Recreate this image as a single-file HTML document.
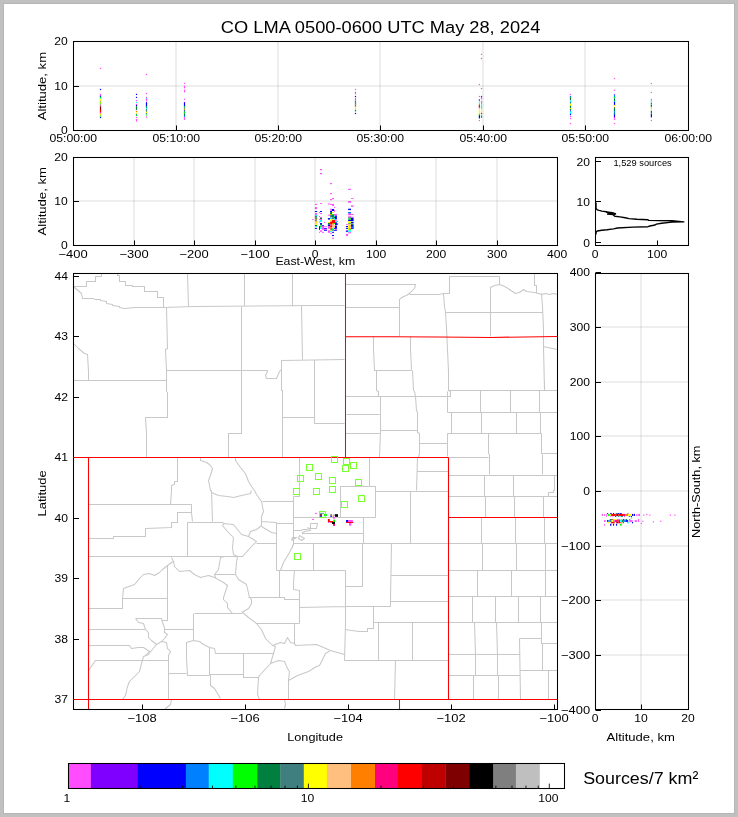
<!DOCTYPE html><html><head><meta charset="utf-8"><style>html,body{margin:0;padding:0;background:#c0c0c0}svg{display:block;will-change:transform}</style></head><body>
<svg width="738" height="817" viewBox="0 0 738 817" style="font-family:'Liberation Sans',sans-serif">
<rect x="0" y="0" width="738" height="817" fill="#c0c0c0"/>
<rect x="3" y="3" width="732" height="811" fill="#b6b6b6"/>
<rect x="4" y="4" width="730" height="809" fill="#ffffff"/>
<text x="380.60" y="32.80" font-size="17.4" text-anchor="middle" textLength="319.51" lengthAdjust="spacingAndGlyphs" >CO LMA 0500-0600 UTC May 28, 2024</text>
<line x1="176.00" y1="42.00" x2="176.00" y2="130.00" stroke="#b0b0b0" stroke-width="2.0" stroke-opacity="0.22"/>
<line x1="278.00" y1="42.00" x2="278.00" y2="130.00" stroke="#b0b0b0" stroke-width="2.0" stroke-opacity="0.22"/>
<line x1="380.00" y1="42.00" x2="380.00" y2="130.00" stroke="#b0b0b0" stroke-width="2.0" stroke-opacity="0.22"/>
<line x1="483.00" y1="42.00" x2="483.00" y2="130.00" stroke="#b0b0b0" stroke-width="2.0" stroke-opacity="0.22"/>
<line x1="585.00" y1="42.00" x2="585.00" y2="130.00" stroke="#b0b0b0" stroke-width="2.0" stroke-opacity="0.22"/>
<line x1="74.00" y1="86.00" x2="688.00" y2="86.00" stroke="#b0b0b0" stroke-width="2.0" stroke-opacity="0.22"/>
<g><rect x="99.90" y="67.90" width="1.20" height="1.20" fill="#ff4cff"/><rect x="99.90" y="88.90" width="1.20" height="1.20" fill="#0000ff"/><rect x="99.90" y="93.80" width="1.20" height="2.70" fill="#ff4cff"/><rect x="99.90" y="95.80" width="1.20" height="1.20" fill="#0000ff"/><rect x="99.90" y="96.80" width="1.20" height="1.20" fill="#00ff00"/><rect x="99.90" y="97.80" width="1.20" height="1.20" fill="#00ffff"/><rect x="99.90" y="98.70" width="1.20" height="2.70" fill="#ffff00"/><rect x="99.90" y="100.90" width="1.20" height="1.20" fill="#3f7f7f"/><rect x="99.90" y="101.60" width="1.20" height="1.20" fill="#ffff00"/><rect x="99.90" y="102.70" width="1.20" height="1.20" fill="#00ff00"/><rect x="99.90" y="103.70" width="1.20" height="1.20" fill="#ffff00"/><rect x="99.90" y="104.40" width="1.20" height="1.20" fill="#3f7f7f"/><rect x="99.90" y="105.40" width="1.20" height="1.20" fill="#ff4cff"/><rect x="99.90" y="106.40" width="1.20" height="4.00" fill="#7f0000"/><rect x="99.90" y="109.40" width="1.20" height="3.50" fill="#ff0000"/><rect x="99.90" y="112.40" width="1.20" height="1.20" fill="#ff4cff"/><rect x="99.90" y="113.40" width="1.20" height="1.20" fill="#ff7f00"/><rect x="99.90" y="114.40" width="1.20" height="1.20" fill="#ffff00"/><rect x="99.90" y="115.40" width="1.20" height="1.20" fill="#00ff00"/><rect x="99.90" y="116.90" width="1.20" height="1.20" fill="#0000ff"/><rect x="135.90" y="93.80" width="1.20" height="1.20" fill="#0000ff"/><rect x="135.90" y="96.80" width="1.20" height="1.20" fill="#0000ff"/><rect x="135.90" y="99.90" width="1.20" height="1.20" fill="#ff4cff"/><rect x="135.90" y="101.80" width="1.20" height="1.20" fill="#00ffff"/><rect x="135.90" y="103.90" width="1.20" height="1.20" fill="#ff4cff"/><rect x="135.90" y="104.90" width="1.20" height="1.20" fill="#0000ff"/><rect x="135.90" y="106.20" width="1.20" height="3.40" fill="#007f3f"/><rect x="135.90" y="109.00" width="1.20" height="1.20" fill="#3f7f7f"/><rect x="135.90" y="110.80" width="1.20" height="1.20" fill="#ff7f00"/><rect x="135.90" y="112.40" width="1.20" height="1.20" fill="#ffff00"/><rect x="135.90" y="113.80" width="1.20" height="1.20" fill="#3f7f7f"/><rect x="135.90" y="114.90" width="1.20" height="1.20" fill="#00ff00"/><rect x="135.90" y="116.90" width="1.20" height="1.20" fill="#ff4cff"/><rect x="135.90" y="119.00" width="1.20" height="2.60" fill="#ff4cff"/><rect x="145.90" y="73.90" width="1.20" height="1.20" fill="#ff4cff"/><rect x="145.90" y="92.90" width="1.20" height="1.20" fill="#ff4cff"/><rect x="145.90" y="96.80" width="1.20" height="1.20" fill="#ff4cff"/><rect x="145.90" y="97.90" width="1.20" height="1.20" fill="#00ffff"/><rect x="145.90" y="98.60" width="1.20" height="2.80" fill="#ff4cff"/><rect x="145.90" y="102.20" width="1.20" height="4.40" fill="#0000ff"/><rect x="145.90" y="105.90" width="1.20" height="1.20" fill="#3f7f7f"/><rect x="145.90" y="106.90" width="1.20" height="1.20" fill="#007f3f"/><rect x="145.90" y="107.70" width="1.20" height="1.20" fill="#00ffff"/><rect x="145.90" y="109.00" width="1.20" height="2.90" fill="#3f7f7f"/><rect x="145.90" y="111.80" width="1.20" height="1.20" fill="#ffff00"/><rect x="145.90" y="112.90" width="1.20" height="1.20" fill="#3f7f7f"/><rect x="145.90" y="114.40" width="1.20" height="1.20" fill="#00ff00"/><rect x="145.90" y="116.40" width="1.20" height="1.20" fill="#ff4cff"/><rect x="183.90" y="82.80" width="1.20" height="1.20" fill="#ff4cff"/><rect x="183.90" y="85.70" width="1.20" height="2.70" fill="#ff4cff"/><rect x="183.90" y="89.70" width="1.20" height="2.70" fill="#ff4cff"/><rect x="183.90" y="98.80" width="1.20" height="1.20" fill="#ff4cff"/><rect x="183.90" y="101.70" width="1.20" height="1.20" fill="#ff4cff"/><rect x="183.90" y="102.40" width="1.20" height="4.20" fill="#0000ff"/><rect x="183.90" y="106.40" width="1.20" height="1.20" fill="#00ff00"/><rect x="183.90" y="107.40" width="1.20" height="1.20" fill="#007f3f"/><rect x="183.90" y="108.90" width="1.20" height="1.20" fill="#ff7f00"/><rect x="183.90" y="109.70" width="1.20" height="2.70" fill="#3f7f7f"/><rect x="183.90" y="111.90" width="1.20" height="1.20" fill="#00ff00"/><rect x="183.90" y="113.20" width="1.20" height="2.70" fill="#007f3f"/><rect x="183.90" y="115.90" width="1.20" height="1.20" fill="#007fff"/><rect x="183.90" y="117.20" width="1.20" height="2.70" fill="#ff4cff"/><rect x="354.90" y="88.90" width="1.20" height="1.20" fill="#ff4cff"/><rect x="354.90" y="91.70" width="1.20" height="2.70" fill="#ff4cff"/><rect x="354.90" y="95.90" width="1.20" height="1.20" fill="#0000ff"/><rect x="354.90" y="97.70" width="1.20" height="2.70" fill="#ff4cff"/><rect x="354.90" y="99.90" width="1.20" height="1.20" fill="#00ffff"/><rect x="354.90" y="100.70" width="1.20" height="3.90" fill="#3f7f7f"/><rect x="354.90" y="103.90" width="1.20" height="1.20" fill="#ff7f00"/><rect x="354.90" y="104.90" width="1.20" height="1.20" fill="#3f7f7f"/><rect x="354.90" y="105.90" width="1.20" height="1.20" fill="#ff7f00"/><rect x="354.90" y="106.90" width="1.20" height="1.20" fill="#ffff00"/><rect x="354.90" y="107.90" width="1.20" height="1.20" fill="#ffbf7f"/><rect x="354.90" y="108.90" width="1.20" height="1.20" fill="#ffff00"/><rect x="354.90" y="109.90" width="1.20" height="1.20" fill="#007f3f"/><rect x="354.90" y="110.90" width="1.20" height="1.20" fill="#00ffff"/><rect x="354.90" y="112.90" width="1.20" height="1.20" fill="#0000ff"/><rect x="480.90" y="53.80" width="1.20" height="1.20" fill="#ff4cff"/><rect x="480.90" y="57.90" width="1.20" height="1.20" fill="#ff4cff"/><rect x="480.90" y="87.90" width="1.20" height="1.20" fill="#ff4cff"/><rect x="480.90" y="95.90" width="1.20" height="1.20" fill="#0000ff"/><rect x="480.90" y="96.70" width="1.20" height="2.70" fill="#ff4cff"/><rect x="480.90" y="100.90" width="1.20" height="1.20" fill="#ff4cff"/><rect x="480.90" y="102.40" width="1.20" height="1.20" fill="#3f7f7f"/><rect x="480.90" y="104.20" width="1.20" height="3.40" fill="#00ffff"/><rect x="480.90" y="107.40" width="1.20" height="1.20" fill="#00ff00"/><rect x="480.90" y="109.20" width="1.20" height="4.40" fill="#ffff00"/><rect x="480.90" y="112.90" width="1.20" height="1.20" fill="#ff0000"/><rect x="480.90" y="114.40" width="1.20" height="1.20" fill="#00ffff"/><rect x="480.90" y="115.40" width="1.20" height="1.20" fill="#00ff00"/><rect x="480.90" y="116.40" width="1.20" height="1.20" fill="#0000ff"/><rect x="478.80" y="83.90" width="1.20" height="1.20" fill="#ff4cff"/><rect x="478.80" y="95.90" width="1.20" height="1.20" fill="#ff4cff"/><rect x="478.80" y="99.40" width="1.20" height="1.20" fill="#0000ff"/><rect x="478.80" y="101.40" width="1.20" height="1.20" fill="#00ffff"/><rect x="478.80" y="103.40" width="1.20" height="1.20" fill="#00ff00"/><rect x="478.80" y="104.70" width="1.20" height="3.10" fill="#ff0000"/><rect x="478.80" y="107.40" width="1.20" height="1.20" fill="#ff4cff"/><rect x="478.80" y="109.20" width="1.20" height="5.40" fill="#ffff00"/><rect x="478.80" y="113.70" width="1.20" height="2.70" fill="#00ff00"/><rect x="478.80" y="115.40" width="1.20" height="3.00" fill="#0000ff"/><rect x="478.80" y="119.90" width="1.20" height="1.20" fill="#ff4cff"/><rect x="569.90" y="93.80" width="1.20" height="1.20" fill="#ff4cff"/><rect x="569.90" y="95.90" width="1.20" height="1.20" fill="#007fff"/><rect x="569.90" y="96.90" width="1.20" height="1.20" fill="#3f7f7f"/><rect x="569.90" y="97.70" width="1.20" height="2.70" fill="#007f3f"/><rect x="569.90" y="100.90" width="1.20" height="1.20" fill="#00ffff"/><rect x="569.90" y="101.90" width="1.20" height="1.20" fill="#007fff"/><rect x="569.90" y="102.60" width="1.20" height="1.20" fill="#3f7f7f"/><rect x="569.90" y="103.60" width="1.20" height="2.50" fill="#ffff00"/><rect x="569.90" y="105.70" width="1.20" height="2.70" fill="#007f3f"/><rect x="569.90" y="107.90" width="1.20" height="1.20" fill="#ffff00"/><rect x="569.90" y="108.90" width="1.20" height="1.20" fill="#007f3f"/><rect x="569.90" y="110.40" width="1.20" height="1.20" fill="#0000ff"/><rect x="569.90" y="111.20" width="1.20" height="3.20" fill="#00ffff"/><rect x="569.90" y="113.90" width="1.20" height="1.20" fill="#0000ff"/><rect x="569.90" y="115.90" width="1.20" height="1.20" fill="#ff4cff"/><rect x="569.90" y="117.90" width="1.20" height="1.20" fill="#ff4cff"/><rect x="569.90" y="122.90" width="1.20" height="1.20" fill="#ff4cff"/><rect x="613.90" y="77.90" width="1.20" height="1.20" fill="#ff4cff"/><rect x="613.90" y="89.80" width="1.20" height="1.20" fill="#ff4cff"/><rect x="613.90" y="93.80" width="1.20" height="1.20" fill="#ff4cff"/><rect x="613.90" y="94.70" width="1.20" height="2.90" fill="#007fff"/><rect x="613.90" y="96.90" width="1.20" height="1.20" fill="#00ff00"/><rect x="613.90" y="98.20" width="1.20" height="3.20" fill="#007f3f"/><rect x="613.90" y="100.90" width="1.20" height="1.20" fill="#00ffff"/><rect x="613.90" y="101.70" width="1.20" height="3.70" fill="#0000ff"/><rect x="613.90" y="104.90" width="1.20" height="1.20" fill="#ffff00"/><rect x="613.90" y="106.90" width="1.20" height="1.20" fill="#ff7f00"/><rect x="613.90" y="107.70" width="1.20" height="3.90" fill="#007f3f"/><rect x="613.90" y="111.20" width="1.20" height="2.60" fill="#007fff"/><rect x="613.90" y="113.10" width="1.20" height="1.20" fill="#007f3f"/><rect x="613.90" y="114.20" width="1.20" height="3.60" fill="#0000ff"/><rect x="613.90" y="117.20" width="1.20" height="2.70" fill="#ff4cff"/><rect x="613.90" y="122.90" width="1.20" height="1.20" fill="#ff4cff"/><rect x="650.80" y="82.90" width="1.20" height="1.20" fill="#ff4cff"/><rect x="650.80" y="91.90" width="1.20" height="1.20" fill="#ff4cff"/><rect x="650.80" y="98.80" width="1.20" height="1.20" fill="#ff4cff"/><rect x="650.80" y="99.70" width="1.20" height="2.90" fill="#00ffff"/><rect x="650.80" y="102.90" width="1.20" height="1.20" fill="#007f3f"/><rect x="650.80" y="103.90" width="1.20" height="1.20" fill="#00ffff"/><rect x="650.80" y="104.70" width="1.20" height="2.70" fill="#007f3f"/><rect x="650.80" y="106.90" width="1.20" height="1.20" fill="#ffff00"/><rect x="650.80" y="107.90" width="1.20" height="1.20" fill="#ffbf7f"/><rect x="650.80" y="109.40" width="1.20" height="1.20" fill="#ffff00"/><rect x="650.80" y="110.70" width="1.20" height="2.70" fill="#007f3f"/><rect x="650.80" y="113.40" width="1.20" height="1.20" fill="#007fff"/><rect x="650.80" y="114.20" width="1.20" height="3.20" fill="#0000ff"/><rect x="650.80" y="119.90" width="1.20" height="1.20" fill="#ff4cff"/></g>
<rect x="73.50" y="41.50" width="615.00" height="89.00" fill="none" stroke="#000" stroke-width="1.05"/>
<line x1="73.50" y1="130.50" x2="73.50" y2="125.50" stroke="#000" stroke-width="1.0" />
<text x="73.20" y="141.70" font-size="11.0" text-anchor="middle" textLength="47.61" lengthAdjust="spacingAndGlyphs" >05:00:00</text>
<line x1="176.50" y1="130.50" x2="176.50" y2="125.50" stroke="#000" stroke-width="1.0" />
<text x="176.20" y="141.70" font-size="11.0" text-anchor="middle" textLength="47.61" lengthAdjust="spacingAndGlyphs" >05:10:00</text>
<line x1="278.50" y1="130.50" x2="278.50" y2="125.50" stroke="#000" stroke-width="1.0" />
<text x="278.20" y="141.70" font-size="11.0" text-anchor="middle" textLength="47.61" lengthAdjust="spacingAndGlyphs" >05:20:00</text>
<line x1="380.50" y1="130.50" x2="380.50" y2="125.50" stroke="#000" stroke-width="1.0" />
<text x="380.20" y="141.70" font-size="11.0" text-anchor="middle" textLength="47.61" lengthAdjust="spacingAndGlyphs" >05:30:00</text>
<line x1="483.50" y1="130.50" x2="483.50" y2="125.50" stroke="#000" stroke-width="1.0" />
<text x="483.20" y="141.70" font-size="11.0" text-anchor="middle" textLength="47.61" lengthAdjust="spacingAndGlyphs" >05:40:00</text>
<line x1="585.50" y1="130.50" x2="585.50" y2="125.50" stroke="#000" stroke-width="1.0" />
<text x="585.20" y="141.70" font-size="11.0" text-anchor="middle" textLength="47.61" lengthAdjust="spacingAndGlyphs" >05:50:00</text>
<line x1="688.50" y1="130.50" x2="688.50" y2="125.50" stroke="#000" stroke-width="1.0" />
<text x="688.20" y="141.70" font-size="11.0" text-anchor="middle" textLength="47.61" lengthAdjust="spacingAndGlyphs" >06:00:00</text>
<line x1="73.50" y1="130.50" x2="79.00" y2="130.50" stroke="#000" stroke-width="1.0" />
<text x="67.80" y="133.90" font-size="11.0" text-anchor="end" textLength="6.74" lengthAdjust="spacingAndGlyphs" >0</text>
<line x1="73.50" y1="86.50" x2="79.00" y2="86.50" stroke="#000" stroke-width="1.0" />
<text x="67.80" y="89.90" font-size="11.0" text-anchor="end" textLength="13.49" lengthAdjust="spacingAndGlyphs" >10</text>
<line x1="73.50" y1="41.50" x2="79.00" y2="41.50" stroke="#000" stroke-width="1.0" />
<text x="67.80" y="44.90" font-size="11.0" text-anchor="end" textLength="13.49" lengthAdjust="spacingAndGlyphs" >20</text>
<text x="45.90" y="86.10" font-size="11.8" text-anchor="middle" textLength="68.28" lengthAdjust="spacingAndGlyphs" transform="rotate(-90 45.90 86.10)" >Altitude, km</text>
<line x1="134.00" y1="158.00" x2="134.00" y2="245.00" stroke="#b0b0b0" stroke-width="2.0" stroke-opacity="0.22"/>
<line x1="194.00" y1="158.00" x2="194.00" y2="245.00" stroke="#b0b0b0" stroke-width="2.0" stroke-opacity="0.22"/>
<line x1="255.00" y1="158.00" x2="255.00" y2="245.00" stroke="#b0b0b0" stroke-width="2.0" stroke-opacity="0.22"/>
<line x1="315.00" y1="158.00" x2="315.00" y2="245.00" stroke="#b0b0b0" stroke-width="2.0" stroke-opacity="0.22"/>
<line x1="376.00" y1="158.00" x2="376.00" y2="245.00" stroke="#b0b0b0" stroke-width="2.0" stroke-opacity="0.22"/>
<line x1="436.00" y1="158.00" x2="436.00" y2="245.00" stroke="#b0b0b0" stroke-width="2.0" stroke-opacity="0.22"/>
<line x1="497.00" y1="158.00" x2="497.00" y2="245.00" stroke="#b0b0b0" stroke-width="2.0" stroke-opacity="0.22"/>
<line x1="74.00" y1="201.00" x2="557.00" y2="201.00" stroke="#b0b0b0" stroke-width="2.0" stroke-opacity="0.22"/>
<g><rect x="312.00" y="219.10" width="1.90" height="0.80" fill="#ff4cff"/><rect x="314.90" y="203.90" width="2.20" height="1.00" fill="#ff4cff"/><rect x="314.90" y="207.10" width="2.20" height="2.00" fill="#ff4cff"/><rect x="314.90" y="211.00" width="2.20" height="1.00" fill="#0000ff"/><rect x="314.90" y="213.00" width="2.20" height="1.80" fill="#ff4cff"/><rect x="314.90" y="214.80" width="2.20" height="1.10" fill="#00ffff"/><rect x="314.90" y="215.90" width="2.20" height="1.90" fill="#3f7f7f"/><rect x="314.90" y="217.80" width="2.20" height="1.00" fill="#007f3f"/><rect x="314.90" y="218.80" width="2.20" height="1.00" fill="#ff7f00"/><rect x="314.90" y="219.80" width="2.20" height="1.00" fill="#3f7f7f"/><rect x="314.90" y="220.80" width="2.20" height="1.00" fill="#ff7f00"/><rect x="314.90" y="221.80" width="2.20" height="1.20" fill="#ffff00"/><rect x="314.90" y="223.00" width="2.20" height="1.20" fill="#ffbf7f"/><rect x="314.90" y="224.20" width="2.20" height="0.80" fill="#ffff00"/><rect x="314.90" y="225.00" width="2.20" height="1.00" fill="#007f3f"/><rect x="314.90" y="226.00" width="2.20" height="0.90" fill="#00ffff"/><rect x="314.90" y="227.90" width="2.20" height="1.00" fill="#0000ff"/><rect x="319.00" y="212.00" width="1.00" height="1.00" fill="#ff4cff"/><rect x="319.00" y="216.00" width="1.00" height="1.00" fill="#ff4cff"/><rect x="319.00" y="219.10" width="1.00" height="0.90" fill="#ff4cff"/><rect x="319.00" y="221.30" width="1.00" height="1.40" fill="#00ffff"/><rect x="319.00" y="226.20" width="1.00" height="2.70" fill="#0000ff"/><rect x="319.00" y="228.90" width="1.00" height="1.00" fill="#0000ff"/><rect x="319.00" y="231.80" width="1.00" height="1.00" fill="#ff4cff"/><rect x="320.00" y="169.00" width="2.00" height="1.20" fill="#ff4cff"/><rect x="320.00" y="173.00" width="2.00" height="1.20" fill="#ff4cff"/><rect x="320.00" y="203.00" width="2.00" height="0.90" fill="#ff4cff"/><rect x="320.00" y="211.00" width="2.00" height="1.00" fill="#0000ff"/><rect x="320.00" y="213.00" width="2.00" height="1.00" fill="#ff4cff"/><rect x="320.00" y="216.90" width="2.00" height="1.00" fill="#ff4cff"/><rect x="320.00" y="217.90" width="2.00" height="1.20" fill="#007f3f"/><rect x="320.00" y="219.10" width="2.00" height="0.90" fill="#ff4cff"/><rect x="320.00" y="220.00" width="2.00" height="2.00" fill="#00ffff"/><rect x="320.00" y="223.00" width="2.00" height="1.00" fill="#0000ff"/><rect x="320.00" y="224.00" width="2.00" height="1.50" fill="#007f3f"/><rect x="320.00" y="226.00" width="2.00" height="1.40" fill="#00ff00"/><rect x="320.00" y="227.40" width="2.00" height="1.50" fill="#00ffff"/><rect x="320.00" y="230.30" width="2.00" height="1.50" fill="#ff4cff"/><rect x="322.00" y="225.20" width="2.00" height="0.80" fill="#0000ff"/><rect x="322.00" y="226.00" width="2.00" height="3.90" fill="#ff4cff"/><rect x="322.00" y="231.80" width="2.00" height="1.00" fill="#ff4cff"/><rect x="324.00" y="226.20" width="2.90" height="0.70" fill="#ff4cff"/><rect x="324.00" y="227.90" width="2.90" height="1.00" fill="#0000ff"/><rect x="324.00" y="228.90" width="2.90" height="1.00" fill="#ff4cff"/><rect x="324.00" y="229.90" width="2.90" height="0.90" fill="#0000ff"/><rect x="324.00" y="222.00" width="1.00" height="1.00" fill="#ff4cff"/><rect x="327.90" y="203.50" width="2.20" height="1.00" fill="#ff4cff"/><rect x="327.90" y="214.70" width="2.20" height="1.00" fill="#ff4cff"/><rect x="327.90" y="218.10" width="2.20" height="1.50" fill="#0000ff"/><rect x="327.90" y="222.00" width="2.20" height="1.00" fill="#ffff00"/><rect x="327.90" y="223.00" width="2.20" height="1.70" fill="#007f3f"/><rect x="327.90" y="224.70" width="2.20" height="1.30" fill="#0000ff"/><rect x="327.90" y="226.00" width="2.20" height="2.90" fill="#ff4cff"/><rect x="327.90" y="230.30" width="2.20" height="2.50" fill="#ff4cff"/><rect x="330.10" y="183.00" width="1.90" height="1.20" fill="#ff4cff"/><rect x="330.10" y="193.00" width="1.90" height="1.20" fill="#ff4cff"/><rect x="330.10" y="199.00" width="1.90" height="1.20" fill="#ff4cff"/><rect x="330.10" y="203.90" width="1.90" height="1.00" fill="#ff4cff"/><rect x="330.10" y="208.80" width="1.90" height="2.00" fill="#ff4cff"/><rect x="330.10" y="211.00" width="1.90" height="1.00" fill="#0000ff"/><rect x="330.10" y="212.00" width="1.90" height="2.00" fill="#007f3f"/><rect x="330.10" y="214.00" width="1.90" height="1.00" fill="#ff7f00"/><rect x="330.10" y="215.00" width="1.90" height="2.60" fill="#3f7f7f"/><rect x="330.10" y="217.90" width="1.90" height="1.40" fill="#00ffff"/><rect x="330.10" y="219.30" width="1.90" height="1.70" fill="#ffff00"/><rect x="330.10" y="221.50" width="1.90" height="3.00" fill="#ff0000"/><rect x="330.10" y="224.50" width="1.90" height="1.00" fill="#ff007f"/><rect x="330.10" y="225.50" width="1.90" height="1.90" fill="#ff0000"/><rect x="330.10" y="227.40" width="1.90" height="1.00" fill="#ff7f00"/><rect x="330.10" y="228.40" width="1.90" height="1.00" fill="#ff0000"/><rect x="330.10" y="229.40" width="1.90" height="0.90" fill="#007f3f"/><rect x="330.10" y="230.30" width="1.90" height="0.80" fill="#ffff00"/><rect x="330.10" y="231.10" width="1.90" height="1.00" fill="#00ffff"/><rect x="330.10" y="232.80" width="1.90" height="1.00" fill="#ff4cff"/><rect x="332.00" y="198.00" width="2.00" height="1.20" fill="#ff4cff"/><rect x="332.00" y="203.90" width="2.00" height="2.00" fill="#ff4cff"/><rect x="332.00" y="209.00" width="2.00" height="2.00" fill="#0000ff"/><rect x="332.00" y="212.00" width="2.00" height="1.00" fill="#ffff00"/><rect x="332.00" y="214.00" width="2.00" height="1.00" fill="#00ff00"/><rect x="332.00" y="215.00" width="2.00" height="2.60" fill="#007f3f"/><rect x="332.00" y="217.60" width="2.00" height="1.70" fill="#3f7f7f"/><rect x="332.00" y="219.30" width="2.00" height="0.70" fill="#ffff00"/><rect x="332.00" y="220.00" width="2.00" height="3.00" fill="#ff0000"/><rect x="332.00" y="223.00" width="2.00" height="1.70" fill="#ff7f00"/><rect x="332.00" y="224.70" width="2.00" height="3.20" fill="#ffbf7f"/><rect x="332.00" y="228.40" width="2.00" height="1.50" fill="#00ff00"/><rect x="332.00" y="229.90" width="2.00" height="0.70" fill="#007f3f"/><rect x="332.00" y="231.80" width="2.00" height="1.00" fill="#0000ff"/><rect x="332.00" y="235.00" width="2.00" height="1.00" fill="#0000ff"/><rect x="332.00" y="237.70" width="2.00" height="1.00" fill="#ff4cff"/><rect x="334.00" y="206.90" width="1.00" height="1.20" fill="#ff4cff"/><rect x="334.00" y="209.80" width="1.00" height="1.90" fill="#ff4cff"/><rect x="334.00" y="214.00" width="1.00" height="1.70" fill="#ff4cff"/><rect x="334.00" y="215.70" width="1.00" height="1.20" fill="#00ffff"/><rect x="334.00" y="216.90" width="1.00" height="1.70" fill="#007f3f"/><rect x="334.00" y="218.60" width="1.00" height="1.20" fill="#00ffff"/><rect x="334.00" y="220.00" width="1.00" height="3.00" fill="#ff0000"/><rect x="334.00" y="223.00" width="1.00" height="1.00" fill="#00ff00"/><rect x="334.00" y="225.00" width="1.00" height="2.40" fill="#ffbf7f"/><rect x="334.00" y="227.90" width="1.00" height="1.00" fill="#0000ff"/><rect x="334.00" y="229.90" width="1.00" height="0.90" fill="#0000ff"/><rect x="335.00" y="214.00" width="1.90" height="1.70" fill="#ff4cff"/><rect x="335.00" y="215.70" width="1.90" height="3.60" fill="#0000ff"/><rect x="335.00" y="219.30" width="1.90" height="1.50" fill="#ff4cff"/><rect x="335.00" y="220.80" width="1.90" height="1.50" fill="#00ffff"/><rect x="335.00" y="222.30" width="1.90" height="3.20" fill="#0000ff"/><rect x="335.00" y="226.00" width="1.90" height="2.90" fill="#0000ff"/><rect x="335.00" y="228.90" width="1.90" height="1.00" fill="#ff4cff"/><rect x="335.00" y="229.90" width="1.90" height="0.90" fill="#0000ff"/><rect x="336.90" y="220.80" width="1.20" height="1.00" fill="#ff4cff"/><rect x="336.90" y="223.50" width="1.20" height="1.20" fill="#0000ff"/><rect x="345.90" y="224.10" width="2.20" height="0.80" fill="#ff4cff"/><rect x="345.90" y="226.00" width="2.20" height="1.00" fill="#0000ff"/><rect x="345.90" y="227.80" width="2.20" height="1.10" fill="#0000ff"/><rect x="345.90" y="229.90" width="2.20" height="0.80" fill="#ff4cff"/><rect x="345.90" y="230.70" width="2.20" height="1.10" fill="#0000ff"/><rect x="345.90" y="234.00" width="2.20" height="1.90" fill="#ff4cff"/><rect x="348.10" y="188.80" width="2.90" height="1.10" fill="#ff4cff"/><rect x="348.10" y="201.00" width="2.90" height="1.80" fill="#ff4cff"/><rect x="348.10" y="208.70" width="2.90" height="1.40" fill="#0000ff"/><rect x="348.10" y="212.00" width="2.90" height="1.80" fill="#007fff"/><rect x="348.10" y="213.50" width="2.90" height="1.80" fill="#ff4cff"/><rect x="348.10" y="216.20" width="2.90" height="1.30" fill="#ff4cff"/><rect x="348.10" y="217.50" width="2.90" height="1.10" fill="#007f3f"/><rect x="348.10" y="218.60" width="2.90" height="1.20" fill="#00ff00"/><rect x="348.10" y="219.80" width="2.90" height="1.40" fill="#0000ff"/><rect x="348.10" y="221.20" width="2.90" height="2.20" fill="#ffff00"/><rect x="348.10" y="223.40" width="2.90" height="0.70" fill="#007f3f"/><rect x="348.10" y="224.10" width="2.90" height="3.70" fill="#ffbf7f"/><rect x="348.10" y="228.20" width="2.90" height="1.10" fill="#ff7f00"/><rect x="348.10" y="229.30" width="2.90" height="1.10" fill="#00ff00"/><rect x="348.10" y="230.40" width="2.90" height="1.40" fill="#00ffff"/><rect x="348.10" y="232.20" width="2.90" height="1.10" fill="#ff4cff"/><rect x="348.10" y="225.60" width="1.10" height="4.20" fill="#ffff00"/><rect x="351.00" y="198.00" width="2.60" height="0.80" fill="#ff4cff"/><rect x="351.00" y="205.40" width="2.60" height="1.40" fill="#ff4cff"/><rect x="351.00" y="214.00" width="2.60" height="1.00" fill="#ff4cff"/><rect x="351.00" y="216.80" width="2.60" height="1.10" fill="#ff4cff"/><rect x="351.00" y="217.90" width="2.60" height="3.30" fill="#0000ff"/><rect x="351.00" y="221.90" width="2.60" height="1.50" fill="#0000ff"/><rect x="351.00" y="223.80" width="2.60" height="1.10" fill="#007f3f"/><rect x="351.00" y="224.90" width="2.60" height="4.00" fill="#0000ff"/><rect x="351.00" y="226.50" width="2.60" height="1.80" fill="#007fff"/></g>
<rect x="73.50" y="157.50" width="484.00" height="88.00" fill="none" stroke="#000" stroke-width="1.05"/>
<line x1="73.50" y1="245.50" x2="73.50" y2="240.50" stroke="#000" stroke-width="1.0" />
<text x="73.10" y="258.20" font-size="11.0" text-anchor="middle" textLength="29.11" lengthAdjust="spacingAndGlyphs" >−400</text>
<line x1="134.50" y1="245.50" x2="134.50" y2="240.50" stroke="#000" stroke-width="1.0" />
<text x="134.10" y="258.20" font-size="11.0" text-anchor="middle" textLength="29.11" lengthAdjust="spacingAndGlyphs" >−300</text>
<line x1="194.50" y1="245.50" x2="194.50" y2="240.50" stroke="#000" stroke-width="1.0" />
<text x="194.10" y="258.20" font-size="11.0" text-anchor="middle" textLength="29.11" lengthAdjust="spacingAndGlyphs" >−200</text>
<line x1="255.50" y1="245.50" x2="255.50" y2="240.50" stroke="#000" stroke-width="1.0" />
<text x="255.10" y="258.20" font-size="11.0" text-anchor="middle" textLength="29.11" lengthAdjust="spacingAndGlyphs" >−100</text>
<line x1="315.50" y1="245.50" x2="315.50" y2="240.50" stroke="#000" stroke-width="1.0" />
<text x="315.10" y="258.20" font-size="11.0" text-anchor="middle" textLength="6.74" lengthAdjust="spacingAndGlyphs" >0</text>
<line x1="376.50" y1="245.50" x2="376.50" y2="240.50" stroke="#000" stroke-width="1.0" />
<text x="376.10" y="258.20" font-size="11.0" text-anchor="middle" textLength="20.23" lengthAdjust="spacingAndGlyphs" >100</text>
<line x1="436.50" y1="245.50" x2="436.50" y2="240.50" stroke="#000" stroke-width="1.0" />
<text x="436.10" y="258.20" font-size="11.0" text-anchor="middle" textLength="20.23" lengthAdjust="spacingAndGlyphs" >200</text>
<line x1="497.50" y1="245.50" x2="497.50" y2="240.50" stroke="#000" stroke-width="1.0" />
<text x="497.10" y="258.20" font-size="11.0" text-anchor="middle" textLength="20.23" lengthAdjust="spacingAndGlyphs" >300</text>
<line x1="557.50" y1="245.50" x2="557.50" y2="240.50" stroke="#000" stroke-width="1.0" />
<text x="557.10" y="258.20" font-size="11.0" text-anchor="middle" textLength="20.23" lengthAdjust="spacingAndGlyphs" >400</text>
<line x1="73.50" y1="245.50" x2="79.00" y2="245.50" stroke="#000" stroke-width="1.0" />
<text x="67.80" y="248.90" font-size="11.0" text-anchor="end" textLength="6.74" lengthAdjust="spacingAndGlyphs" >0</text>
<line x1="73.50" y1="201.50" x2="79.00" y2="201.50" stroke="#000" stroke-width="1.0" />
<text x="67.80" y="204.90" font-size="11.0" text-anchor="end" textLength="13.49" lengthAdjust="spacingAndGlyphs" >10</text>
<line x1="73.50" y1="157.50" x2="79.00" y2="157.50" stroke="#000" stroke-width="1.0" />
<text x="67.80" y="160.90" font-size="11.0" text-anchor="end" textLength="13.49" lengthAdjust="spacingAndGlyphs" >20</text>
<text x="45.90" y="201.30" font-size="11.8" text-anchor="middle" textLength="68.28" lengthAdjust="spacingAndGlyphs" transform="rotate(-90 45.90 201.30)" >Altitude, km</text>
<text x="315.30" y="264.50" font-size="11.8" text-anchor="middle" textLength="79.81" lengthAdjust="spacingAndGlyphs" >East-West, km</text>
<rect x="595.50" y="157.50" width="93.00" height="88.00" fill="none" stroke="#000" stroke-width="1.05"/>
<line x1="595.50" y1="245.50" x2="595.50" y2="240.50" stroke="#000" stroke-width="1.0" />
<text x="595.10" y="258.20" font-size="11.0" text-anchor="middle" textLength="6.74" lengthAdjust="spacingAndGlyphs" >0</text>
<line x1="657.50" y1="245.50" x2="657.50" y2="240.50" stroke="#000" stroke-width="1.0" />
<text x="657.10" y="258.20" font-size="11.0" text-anchor="middle" textLength="20.23" lengthAdjust="spacingAndGlyphs" >100</text>
<line x1="595.50" y1="242.50" x2="601.00" y2="242.50" stroke="#000" stroke-width="1.0" />
<text x="590.10" y="246.50" font-size="11.0" text-anchor="end" textLength="6.74" lengthAdjust="spacingAndGlyphs" >0</text>
<line x1="595.50" y1="201.50" x2="601.00" y2="201.50" stroke="#000" stroke-width="1.0" />
<text x="590.10" y="205.50" font-size="11.0" text-anchor="end" textLength="13.49" lengthAdjust="spacingAndGlyphs" >10</text>
<line x1="595.50" y1="161.50" x2="601.00" y2="161.50" stroke="#000" stroke-width="1.0" />
<text x="590.10" y="165.50" font-size="11.0" text-anchor="end" textLength="13.49" lengthAdjust="spacingAndGlyphs" >20</text>
<text x="642.60" y="165.70" font-size="8.65" text-anchor="middle" textLength="58.29" lengthAdjust="spacingAndGlyphs" >1,529 sources</text>
<polyline fill="none" stroke="#000" stroke-width="1.4" stroke-linejoin="round" points="596.0,202.6 596.0,208.5 597.2,209.8 599.2,210.4 601.8,211.1 606.4,211.7 607.0,212.4 610.9,212.4 615.5,213.7 613.5,215.3 614.8,216.3 620.0,216.9 625.2,217.8 629.1,218.6 636.9,219.3 648.0,219.8 648.6,220.4 659.0,220.6 672.0,220.8 683.8,221.9 672.0,222.1 661.6,223.2 656.4,224.1 655.1,225.0 649.9,226.0 648.0,226.7 633.0,227.1 617.4,228.0 613.5,228.9 607.0,229.7 601.8,230.2 597.2,231.0 596.0,232.3 596.0,234.5"/>
<path d="M606.4 212 L615.5 214 M607 214 L613.5 214.6" stroke="#000" stroke-width="1.5" fill="none"/>
<g><path d="M73.5 286.5 L86.5 286.5 L86.5 281.5 L95.5 281.5 L95.5 276.5 L101.5 276.5 L101.5 273.5 M117.5 273.5 L117.5 275.5 L119.5 275.5 L119.5 281.5 L125.5 281.5 L125.5 285.5 L132.5 285.5 L132.5 286.5 L144.5 286.5 L144.5 291.5 L157.5 291.5 L157.5 297.5 L163.5 297.5 L163.5 307.5 M73.5 286.5 L81.5 293.5 L82.5 298.5 L93.5 298.5 L94.5 299.5 L100.5 299.5 L100.5 300.5 L106.5 301.5 L106.5 303.5 L112.5 304.5 L112.5 305.5 L119.5 306.5 L119.5 307.5 L124.5 308.5 L134.5 307.5 L163.5 307.5 L194.5 306.5 L316.5 305.5 L344.5 305.5 M187.5 273.5 L188.5 306.5 M166.5 307.5 L167.5 348.5 L165.5 349.5 L166.5 370.5 L166.5 381.5 L166.5 391.5 L167.5 392.5 L167.5 417.5 L145.5 417.5 L146.5 433.5 L146.5 457.5 M166.5 370.5 L267.5 370.5 L267.5 371.5 L265.5 375.5 L266.5 378.5 L276.5 378.5 L279.5 371.5 L281.5 369.5 M73.5 343.5 L78.5 348.5 L84.5 353.5 L87.5 354.5 L88.5 371.5 L88.5 380.5 M73.5 380.5 L166.5 380.5 M244.5 273.5 L244.5 306.5 M292.5 273.5 L292.5 306.5 M241.5 306.5 L241.5 433.5 L228.5 433.5 L228.5 457.5 M301.5 305.5 L302.5 359.5 M281.5 360.5 L344.5 359.5 M281.5 360.5 L281.5 390.5 L282.5 390.5 L282.5 457.5 M314.5 360.5 L314.5 423.5 L344.5 423.5 M282.5 417.5 L314.5 417.5 M345.5 284.5 L415.5 284.5 L414.5 288.5 L410.5 292.5 L406.5 295.5 L403.5 296.5 L400.5 298.5 L399.5 299.5 L399.5 336.5 M409.5 294.5 L438.5 294.5 L443.5 293.5 L449.5 293.5 L449.5 276.5 L499.5 276.5 L499.5 284.5 M345.5 307.5 L399.5 307.5 M373.5 336.5 L373.5 348.5 L374.5 370.5 L411.5 370.5 M410.5 336.5 L410.5 348.5 L411.5 370.5 M376.5 370.5 L376.5 390.5 L378.5 391.5 L378.5 396.5 M412.5 370.5 L413.5 390.5 L414.5 391.5 L415.5 396.5 M490.5 288.5 L490.5 287.5 L494.5 285.5 L499.5 284.5 L502.5 285.5 L506.5 287.5 L512.5 291.5 L515.5 293.5 L519.5 292.5 L523.5 289.5 L526.5 291.5 L534.5 292.5 L538.5 293.5 L541.5 294.5 L545.5 293.5 L549.5 294.5 L553.5 293.5 L557.5 294.5 M534.5 273.5 L534.5 285.5 L536.5 285.5 L536.5 292.5 M490.5 288.5 L490.5 336.5 M443.5 293.5 L444.5 306.5 L445.5 311.5 L446.5 328.5 L447.5 349.5 L448.5 371.5 L448.5 390.5 M445.5 312.5 L542.5 312.5 M541.5 293.5 L542.5 306.5 L543.5 328.5 L543.5 346.5 L544.5 390.5 M543.5 346.5 L547.5 347.5 L557.5 349.5 M177.5 457.5 L177.5 481.5 L174.5 481.5 L174.5 484.5 L171.5 485.5 L171.5 490.5 L170.5 504.5 M200.5 457.5 L200.5 460.5 L206.5 462.5 L209.5 464.5 L212.5 468.5 L210.5 475.5 L208.5 480.5 L210.5 490.5 L211.5 490.5 L212.5 521.5 M235.5 457.5 L235.5 460.5 L240.5 467.5 L245.5 473.5 L248.5 481.5 L251.5 486.5 L254.5 490.5 L256.5 494.5 L261.5 501.5 L263.5 511.5 L261.5 516.5 L261.5 525.5 L256.5 529.5 L250.5 531.5 L248.5 536.5 L256.5 541.5 L250.5 547.5 L242.5 556.5 L237.5 556.5 M299.5 457.5 L299.5 496.5 L293.5 496.5 M345.5 396.5 L438.5 396.5 L450.5 396.5 L450.5 391.5 L448.5 390.5 L557.5 390.5 M346.5 414.5 L379.5 414.5 M345.5 433.5 L379.5 433.5 M380.5 396.5 L380.5 430.5 L379.5 457.5 M380.5 430.5 L417.5 430.5 M415.5 396.5 L416.5 410.5 L417.5 412.5 L417.5 432.5 L419.5 433.5 L419.5 453.5 L418.5 457.5 M419.5 443.5 L447.5 443.5 M369.5 457.5 L369.5 486.5 M417.5 457.5 L416.5 490.5 M417.5 471.5 L448.5 471.5 M340.5 490.5 L340.5 486.5 L375.5 486.5 L375.5 490.5 M544.5 381.5 L544.5 390.5 M447.5 391.5 L447.5 412.5 M447.5 412.5 L557.5 412.5 M480.5 390.5 L480.5 412.5 M510.5 390.5 L510.5 412.5 M539.5 390.5 L539.5 412.5 M451.5 412.5 L451.5 433.5 M481.5 412.5 L481.5 433.5 M516.5 412.5 L516.5 433.5 M540.5 412.5 L540.5 433.5 M447.5 433.5 L541.5 433.5 M447.5 433.5 L447.5 456.5 M488.5 433.5 L488.5 453.5 L489.5 454.5 L489.5 474.5 M448.5 457.5 L488.5 457.5 M541.5 433.5 L541.5 453.5 L557.5 453.5 M542.5 454.5 L542.5 474.5 M448.5 475.5 L557.5 475.5 M484.5 475.5 L484.5 496.5 M513.5 475.5 L513.5 496.5 M554.5 475.5 L554.5 490.5 L553.5 490.5 L553.5 492.5 L548.5 492.5 L548.5 496.5 M88.5 504.5 L191.5 504.5 L191.5 512.5 L192.5 521.5 M191.5 512.5 L177.5 512.5 L177.5 522.5 L171.5 522.5 L171.5 527.5 L145.5 528.5 L145.5 536.5 L113.5 536.5 L113.5 538.5 L88.5 538.5 M187.5 522.5 L187.5 556.5 M187.5 522.5 L223.5 522.5 M88.5 556.5 L237.5 556.5 M171.5 557.5 L173.5 561.5 L171.5 562.5 L167.5 565.5 L162.5 569.5 L159.5 572.5 L154.5 575.5 L149.5 573.5 L143.5 574.5 L139.5 578.5 L134.5 584.5 L123.5 588.5 L122.5 598.5 L167.5 598.5 L167.5 565.5 M173.5 561.5 L174.5 566.5 L179.5 571.5 L189.5 570.5 L194.5 574.5 L200.5 577.5 L208.5 575.5 L214.5 577.5 L223.5 582.5 L227.5 585.5 L223.5 597.5 L223.5 599.5 L227.5 603.5 L227.5 607.5 L232.5 613.5 M211.5 492.5 L218.5 495.5 L227.5 496.5 L233.5 497.5 L241.5 495.5 L250.5 493.5 L251.5 490.5 M262.5 501.5 L293.5 501.5 M293.5 496.5 L293.5 544.5 L289.5 552.5 L283.5 562.5 L280.5 570.5 M293.5 517.5 L375.5 517.5 M293.5 530.5 L301.5 530.5 L302.5 529.5 L307.5 529.5 L308.5 528.5 M310.5 523.5 L317.5 523.5 L316.5 528.5 L310.5 528.5 L310.5 523.5 M307.5 527.5 L309.5 528.5 L310.5 530.5 L304.5 531.5 L302.5 532.5 L302.5 534.5 M302.5 533.5 L363.5 533.5 M299.5 535.5 L304.5 538.5 L301.5 540.5 L298.5 538.5 L299.5 535.5 M291.5 540.5 L296.5 537.5 L292.5 537.5 L291.5 540.5 M293.5 544.5 L292.5 545.5 L292.5 547.5 L290.5 549.5 M293.5 543.5 L438.5 543.5 M223.5 523.5 L233.5 524.5 L241.5 534.5 L248.5 536.5 M261.5 521.5 L276.5 522.5 M276.5 522.5 L276.5 570.5 M276.5 523.5 L293.5 523.5 M256.5 543.5 L276.5 543.5 M261.5 526.5 L266.5 529.5 L271.5 532.5 L276.5 533.5 M223.5 523.5 L222.5 525.5 L227.5 531.5 L233.5 537.5 L232.5 547.5 L233.5 554.5 L237.5 556.5 M224.5 556.5 L220.5 557.5 L218.5 569.5 L214.5 574.5 L215.5 577.5 M237.5 556.5 L236.5 562.5 L235.5 574.5 L238.5 579.5 L246.5 584.5 L249.5 597.5 L251.5 599.5 L251.5 603.5 L248.5 608.5 L243.5 611.5 L241.5 613.5 M214.5 574.5 L235.5 574.5 M276.5 570.5 L316.5 570.5 L345.5 570.5 M313.5 543.5 L313.5 570.5 M279.5 570.5 L279.5 597.5 M294.5 570.5 L293.5 582.5 L293.5 589.5 L299.5 590.5 L299.5 599.5 L299.5 623.5 M248.5 597.5 L284.5 597.5 L284.5 599.5 L299.5 599.5 M340.5 490.5 L340.5 517.5 M375.5 490.5 L375.5 517.5 M375.5 491.5 L448.5 491.5 M410.5 491.5 L410.5 543.5 M363.5 517.5 L363.5 543.5 M362.5 543.5 L362.5 586.5 L345.5 586.5 M345.5 570.5 L345.5 599.5 M391.5 543.5 L390.5 599.5 L390.5 606.5 M391.5 575.5 L448.5 575.5 M448.5 496.5 L557.5 496.5 M485.5 496.5 L485.5 517.5 M514.5 496.5 L514.5 517.5 M543.5 496.5 L543.5 517.5 M481.5 517.5 L481.5 543.5 M515.5 517.5 L515.5 543.5 M544.5 517.5 L544.5 543.5 M448.5 543.5 L557.5 543.5 M482.5 543.5 L482.5 570.5 M516.5 543.5 L516.5 570.5 M545.5 543.5 L545.5 570.5 M448.5 570.5 L557.5 570.5 M477.5 570.5 L477.5 596.5 M511.5 570.5 L511.5 596.5 M545.5 570.5 L545.5 596.5 M448.5 596.5 L557.5 596.5 M472.5 596.5 L472.5 622.5 M495.5 596.5 L495.5 622.5 M518.5 596.5 L518.5 622.5 M540.5 596.5 L540.5 622.5 M448.5 543.5 L438.5 543.5 M88.5 608.5 L122.5 608.5 L122.5 598.5 M167.5 598.5 L167.5 620.5 L161.5 620.5 M135.5 618.5 L161.5 618.5 L162.5 622.5 L164.5 627.5 L164.5 632.5 L167.5 634.5 L164.5 638.5 L161.5 641.5 L156.5 644.5 L151.5 650.5 L148.5 654.5 L143.5 656.5 L141.5 663.5 L139.5 671.5 L134.5 676.5 L129.5 681.5 L127.5 686.5 L125.5 695.5 L122.5 699.5 M135.5 618.5 L138.5 622.5 L143.5 623.5 L145.5 629.5 L148.5 632.5 L148.5 637.5 L151.5 640.5 L156.5 644.5 M88.5 629.5 L145.5 629.5 M164.5 629.5 L193.5 629.5 M193.5 613.5 L193.5 640.5 L186.5 642.5 L186.5 658.5 L187.5 675.5 L209.5 675.5 M88.5 645.5 L129.5 645.5 L131.5 648.5 L138.5 647.5 L143.5 647.5 L149.5 651.5 L144.5 656.5 M88.5 670.5 L95.5 660.5 L168.5 660.5 M161.5 641.5 L166.5 642.5 L167.5 648.5 L170.5 651.5 L168.5 655.5 L168.5 699.5 M168.5 673.5 L186.5 673.5 M171.5 699.5 L170.5 704.5 L164.5 709.5 M194.5 613.5 L241.5 613.5 M241.5 611.5 L248.5 617.5 L256.5 623.5 L261.5 629.5 L265.5 638.5 L272.5 645.5 L275.5 646.5 M256.5 623.5 L299.5 623.5 M299.5 607.5 L345.5 606.5 L390.5 606.5 M294.5 623.5 L294.5 644.5 M272.5 645.5 L280.5 642.5 L284.5 643.5 L287.5 637.5 L290.5 642.5 L294.5 643.5 L295.5 645.5 L316.5 644.5 L330.5 650.5 L344.5 654.5 M193.5 640.5 L199.5 641.5 L203.5 644.5 L209.5 647.5 L214.5 648.5 L215.5 653.5 L273.5 653.5 L275.5 646.5 M209.5 647.5 L209.5 675.5 M209.5 674.5 L243.5 674.5 M243.5 653.5 L243.5 677.5 L258.5 677.5 M273.5 653.5 L270.5 663.5 L259.5 675.5 L258.5 677.5 L257.5 694.5 L259.5 699.5 M210.5 675.5 L210.5 685.5 L214.5 688.5 L220.5 698.5 M270.5 663.5 L278.5 660.5 L284.5 661.5 L287.5 668.5 L289.5 671.5 L288.5 680.5 L297.5 675.5 L308.5 671.5 L316.5 666.5 L319.5 665.5 L322.5 659.5 L325.5 653.5 L330.5 650.5 M288.5 680.5 L288.5 699.5 M284.5 699.5 L285.5 704.5 L284.5 708.5 M345.5 599.5 L345.5 623.5 L344.5 660.5 M390.5 601.5 L448.5 601.5 M373.5 606.5 L373.5 628.5 L367.5 628.5 L367.5 631.5 L359.5 631.5 L351.5 630.5 L345.5 629.5 M373.5 622.5 L557.5 622.5 M378.5 622.5 L378.5 660.5 M412.5 622.5 L412.5 660.5 M344.5 660.5 L448.5 660.5 M395.5 660.5 L394.5 699.5 M474.5 622.5 L475.5 654.5 M496.5 622.5 L497.5 654.5 M541.5 622.5 L541.5 643.5 L557.5 643.5 M519.5 638.5 L541.5 638.5 M519.5 638.5 L520.5 699.5 M542.5 643.5 L542.5 670.5 M448.5 654.5 L519.5 654.5 M475.5 654.5 L475.5 675.5 M497.5 654.5 L497.5 675.5 M519.5 670.5 L557.5 670.5 M548.5 670.5 L548.5 699.5 M448.5 675.5 L519.5 675.5 M473.5 675.5 L473.5 699.5 M498.5 675.5 L498.5 699.5" fill="none" stroke="#c8c8c8" stroke-width="1.05" stroke-linejoin="round"/></g>
<rect x="73.50" y="273.50" width="484.00" height="436.00" fill="none" stroke="#000" stroke-width="1.05"/>
<line x1="142.50" y1="709.50" x2="142.50" y2="704.50" stroke="#000" stroke-width="1.0" />
<text x="142.10" y="722.00" font-size="11.0" text-anchor="middle" textLength="29.11" lengthAdjust="spacingAndGlyphs" >−108</text>
<line x1="245.50" y1="709.50" x2="245.50" y2="704.50" stroke="#000" stroke-width="1.0" />
<text x="245.10" y="722.00" font-size="11.0" text-anchor="middle" textLength="29.11" lengthAdjust="spacingAndGlyphs" >−106</text>
<line x1="348.50" y1="709.50" x2="348.50" y2="704.50" stroke="#000" stroke-width="1.0" />
<text x="348.10" y="722.00" font-size="11.0" text-anchor="middle" textLength="29.11" lengthAdjust="spacingAndGlyphs" >−104</text>
<line x1="451.50" y1="709.50" x2="451.50" y2="704.50" stroke="#000" stroke-width="1.0" />
<text x="451.10" y="722.00" font-size="11.0" text-anchor="middle" textLength="29.11" lengthAdjust="spacingAndGlyphs" >−102</text>
<line x1="554.50" y1="709.50" x2="554.50" y2="704.50" stroke="#000" stroke-width="1.0" />
<text x="554.10" y="722.00" font-size="11.0" text-anchor="middle" textLength="29.11" lengthAdjust="spacingAndGlyphs" >−100</text>
<line x1="73.50" y1="699.50" x2="79.00" y2="699.50" stroke="#000" stroke-width="1.0" />
<text x="67.90" y="702.90" font-size="11.0" text-anchor="end" textLength="13.49" lengthAdjust="spacingAndGlyphs" >37</text>
<line x1="73.50" y1="639.50" x2="79.00" y2="639.50" stroke="#000" stroke-width="1.0" />
<text x="67.90" y="642.90" font-size="11.0" text-anchor="end" textLength="13.49" lengthAdjust="spacingAndGlyphs" >38</text>
<line x1="73.50" y1="578.50" x2="79.00" y2="578.50" stroke="#000" stroke-width="1.0" />
<text x="67.90" y="581.90" font-size="11.0" text-anchor="end" textLength="13.49" lengthAdjust="spacingAndGlyphs" >39</text>
<line x1="73.50" y1="518.50" x2="79.00" y2="518.50" stroke="#000" stroke-width="1.0" />
<text x="67.90" y="521.90" font-size="11.0" text-anchor="end" textLength="13.49" lengthAdjust="spacingAndGlyphs" >40</text>
<line x1="73.50" y1="457.50" x2="79.00" y2="457.50" stroke="#000" stroke-width="1.0" />
<text x="67.90" y="460.90" font-size="11.0" text-anchor="end" textLength="13.49" lengthAdjust="spacingAndGlyphs" >41</text>
<line x1="73.50" y1="397.50" x2="79.00" y2="397.50" stroke="#000" stroke-width="1.0" />
<text x="67.90" y="400.90" font-size="11.0" text-anchor="end" textLength="13.49" lengthAdjust="spacingAndGlyphs" >42</text>
<line x1="73.50" y1="336.50" x2="79.00" y2="336.50" stroke="#000" stroke-width="1.0" />
<text x="67.90" y="339.90" font-size="11.0" text-anchor="end" textLength="13.49" lengthAdjust="spacingAndGlyphs" >43</text>
<line x1="73.50" y1="276.50" x2="79.00" y2="276.50" stroke="#000" stroke-width="1.0" />
<text x="67.90" y="279.90" font-size="11.0" text-anchor="end" textLength="13.49" lengthAdjust="spacingAndGlyphs" >44</text>
<g><path d="M345.5 273.5 L345.5 457.5 M345.5 336.5 L438 336.9 L490.9 337.4 L557.5 336.5 M73.5 457.5 L448.5 457.5 M88.5 457.5 L88.5 709 M448.5 457.5 L448.5 699.5 M448.5 517.5 L557.5 517.5 M73.5 699.5 L557.5 699.5 M399.5 699.5 L399.5 709" fill="none" stroke="#ff0000" stroke-width="1.05"/></g>
<g><rect x="314.90" y="512.90" width="1.90" height="1.00" fill="#ff4cff"/><rect x="320.00" y="512.90" width="4.00" height="0.80" fill="#3f7f7f"/><rect x="319.10" y="514.20" width="2.90" height="1.60" fill="#7f0000"/><rect x="319.10" y="515.80" width="2.90" height="1.00" fill="#0000ff"/><rect x="324.00" y="513.90" width="2.90" height="2.20" fill="#00ff00"/><rect x="330.20" y="514.20" width="1.90" height="1.60" fill="#7f7f7f"/><rect x="330.20" y="515.80" width="1.90" height="1.00" fill="#0000ff"/><rect x="333.10" y="514.20" width="1.90" height="1.80" fill="#bfbfbf"/><rect x="335.00" y="514.20" width="3.00" height="2.60" fill="#000000"/><rect x="332.50" y="515.80" width="1.50" height="1.00" fill="#ff7f00"/><rect x="333.10" y="516.80" width="1.90" height="1.90" fill="#ff4cff"/><rect x="327.90" y="519.00" width="1.90" height="3.00" fill="#ff0000"/><rect x="329.80" y="521.00" width="3.30" height="1.60" fill="#ff0000"/><rect x="333.10" y="519.70" width="1.90" height="2.30" fill="#00ff00"/><rect x="332.10" y="522.00" width="2.90" height="2.00" fill="#000000"/><rect x="333.10" y="524.00" width="1.90" height="1.90" fill="#ff007f"/><rect x="327.90" y="522.00" width="1.50" height="1.00" fill="#ff4cff"/><rect x="346.10" y="520.00" width="1.90" height="2.00" fill="#0000ff"/><rect x="348.00" y="520.00" width="4.90" height="2.00" fill="#ff4cff"/><rect x="346.10" y="522.00" width="7.20" height="1.00" fill="#ff0000"/><rect x="349.00" y="523.00" width="2.30" height="2.60" fill="#ff4cff"/><rect x="312.00" y="519.00" width="1.90" height="1.00" fill="#ff4cff"/><g fill="none" stroke="#7cff30" stroke-width="1.05"><rect x="331.5" y="456.5" width="6" height="6"/><rect x="343.5" y="458.5" width="6" height="6"/><rect x="350.5" y="462.5" width="6" height="6"/><rect x="342.5" y="465.5" width="6" height="6"/><rect x="306.5" y="464.5" width="6" height="6"/><rect x="297.5" y="475.5" width="6" height="6"/><rect x="315.5" y="473.5" width="6" height="6"/><rect x="329.5" y="477.5" width="6" height="6"/><rect x="355.5" y="479.5" width="6" height="6"/><rect x="293.5" y="488.5" width="6" height="6"/><rect x="313.5" y="488.5" width="6" height="6"/><rect x="329.5" y="486.5" width="6" height="6"/><rect x="358.5" y="495.5" width="6" height="6"/><rect x="341.5" y="501.5" width="6" height="6"/><rect x="319.5" y="511.5" width="6" height="6"/><rect x="294.5" y="553.5" width="6" height="6"/></g></g>
<text x="45.90" y="493.40" font-size="11.8" text-anchor="middle" textLength="46.10" lengthAdjust="spacingAndGlyphs" transform="rotate(-90 45.90 493.40)" >Latitude</text>
<text x="315.10" y="740.80" font-size="11.8" text-anchor="middle" textLength="55.70" lengthAdjust="spacingAndGlyphs" >Longitude</text>
<line x1="596.00" y1="655.00" x2="688.00" y2="655.00" stroke="#b0b0b0" stroke-width="2.0" stroke-opacity="0.22"/>
<line x1="596.00" y1="600.00" x2="688.00" y2="600.00" stroke="#b0b0b0" stroke-width="2.0" stroke-opacity="0.22"/>
<line x1="596.00" y1="546.00" x2="688.00" y2="546.00" stroke="#b0b0b0" stroke-width="2.0" stroke-opacity="0.22"/>
<line x1="596.00" y1="491.00" x2="688.00" y2="491.00" stroke="#b0b0b0" stroke-width="2.0" stroke-opacity="0.22"/>
<line x1="596.00" y1="436.00" x2="688.00" y2="436.00" stroke="#b0b0b0" stroke-width="2.0" stroke-opacity="0.22"/>
<line x1="596.00" y1="382.00" x2="688.00" y2="382.00" stroke="#b0b0b0" stroke-width="2.0" stroke-opacity="0.22"/>
<line x1="596.00" y1="327.00" x2="688.00" y2="327.00" stroke="#b0b0b0" stroke-width="2.0" stroke-opacity="0.22"/>
<line x1="641.00" y1="274.00" x2="641.00" y2="709.00" stroke="#b0b0b0" stroke-width="2.0" stroke-opacity="0.22"/>
<g><rect x="607.05" y="512.98" width="1.08" height="0.92" fill="#0000ff"/><rect x="610.03" y="512.98" width="1.63" height="0.92" fill="#0000ff"/><rect x="613.01" y="512.98" width="1.08" height="0.92" fill="#0000ff"/><rect x="615.72" y="512.98" width="2.17" height="0.92" fill="#3f7f7f"/><rect x="617.89" y="512.98" width="1.08" height="0.92" fill="#0000ff"/><rect x="619.51" y="512.98" width="2.17" height="0.92" fill="#0000ff"/><rect x="627.10" y="512.98" width="1.63" height="0.92" fill="#ff4cff"/><rect x="601.90" y="513.90" width="1.08" height="2.06" fill="#ff4cff"/><rect x="604.07" y="513.90" width="0.81" height="2.06" fill="#ff4cff"/><rect x="605.96" y="513.90" width="0.81" height="2.06" fill="#ff4cff"/><rect x="607.59" y="513.90" width="2.17" height="2.06" fill="#00ff00"/><rect x="609.76" y="513.90" width="1.08" height="2.06" fill="#ffff00"/><rect x="610.84" y="513.90" width="1.08" height="2.06" fill="#007f3f"/><rect x="611.92" y="513.90" width="3.79" height="2.06" fill="#ff0000"/><rect x="615.72" y="513.90" width="1.08" height="2.06" fill="#bf0000"/><rect x="616.80" y="513.90" width="1.63" height="2.06" fill="#7f0000"/><rect x="618.43" y="513.90" width="5.42" height="2.06" fill="#ff0000"/><rect x="623.85" y="513.90" width="1.36" height="2.06" fill="#ff007f"/><rect x="625.20" y="513.90" width="2.98" height="2.06" fill="#ff7f00"/><rect x="628.18" y="513.90" width="2.98" height="2.06" fill="#ffff00"/><rect x="631.98" y="513.90" width="1.08" height="2.06" fill="#0000ff"/><rect x="633.60" y="513.90" width="1.36" height="2.06" fill="#0000ff"/><rect x="636.31" y="513.90" width="1.08" height="2.06" fill="#ff4cff"/><rect x="638.21" y="513.90" width="1.79" height="2.06" fill="#ff4cff"/><rect x="605.96" y="515.96" width="0.81" height="0.98" fill="#ff4cff"/><rect x="610.03" y="515.96" width="0.81" height="0.98" fill="#ff4cff"/><rect x="612.47" y="515.96" width="1.08" height="0.98" fill="#ff4cff"/><rect x="615.18" y="515.96" width="1.08" height="0.98" fill="#0000ff"/><rect x="617.89" y="515.96" width="1.08" height="0.98" fill="#3f7f7f"/><rect x="619.51" y="515.96" width="1.08" height="0.98" fill="#00ffff"/><rect x="621.14" y="515.96" width="1.63" height="0.98" fill="#007f3f"/><rect x="623.85" y="515.96" width="1.08" height="0.98" fill="#ff4cff"/><rect x="628.73" y="515.96" width="1.63" height="0.98" fill="#007fff"/><rect x="630.89" y="515.96" width="1.08" height="0.98" fill="#0000ff"/><rect x="631.17" y="517.32" width="0.81" height="1.36" fill="#ff4cff"/><rect x="609.76" y="519.11" width="2.17" height="0.98" fill="#007f3f"/><rect x="612.20" y="519.11" width="1.08" height="0.98" fill="#ff0000"/><rect x="614.09" y="519.11" width="2.71" height="0.98" fill="#ffff00"/><rect x="616.80" y="519.11" width="3.25" height="0.98" fill="#ff4cff"/><rect x="620.60" y="519.11" width="1.08" height="0.98" fill="#00ff00"/><rect x="622.76" y="519.11" width="1.63" height="0.98" fill="#0000ff"/><rect x="625.47" y="519.11" width="1.63" height="0.98" fill="#007f3f"/><rect x="629.27" y="519.11" width="1.08" height="0.98" fill="#007fff"/><rect x="637.94" y="519.11" width="1.08" height="0.98" fill="#ff4cff"/><rect x="604.07" y="520.08" width="1.63" height="1.84" fill="#ff4cff"/><rect x="607.05" y="520.08" width="1.36" height="1.84" fill="#0000ff"/><rect x="608.40" y="520.08" width="0.81" height="1.84" fill="#007fff"/><rect x="609.21" y="520.08" width="2.44" height="1.84" fill="#3f7f7f"/><rect x="611.65" y="520.08" width="1.08" height="1.84" fill="#ffff00"/><rect x="613.01" y="520.08" width="0.81" height="1.84" fill="#00ff00"/><rect x="613.82" y="520.08" width="0.81" height="1.84" fill="#ff4cff"/><rect x="614.63" y="520.08" width="3.79" height="1.84" fill="#ff007f"/><rect x="618.43" y="520.08" width="1.63" height="1.84" fill="#ff0000"/><rect x="620.05" y="520.08" width="1.36" height="1.84" fill="#00ffff"/><rect x="621.68" y="520.08" width="2.17" height="1.84" fill="#007f3f"/><rect x="623.85" y="520.08" width="2.17" height="1.84" fill="#007fff"/><rect x="626.02" y="520.08" width="2.17" height="1.84" fill="#0000ff"/><rect x="629.27" y="520.08" width="3.25" height="1.84" fill="#ff4cff"/><rect x="634.69" y="520.08" width="2.17" height="1.84" fill="#ff4cff"/><rect x="637.94" y="520.08" width="1.08" height="1.84" fill="#ff4cff"/><rect x="607.59" y="521.92" width="1.90" height="1.41" fill="#ffff00"/><rect x="610.84" y="521.92" width="3.79" height="1.41" fill="#ff0000"/><rect x="616.26" y="521.92" width="2.17" height="1.41" fill="#bf0000"/><rect x="618.43" y="521.92" width="2.17" height="1.41" fill="#ff0000"/><rect x="621.14" y="521.92" width="1.08" height="1.41" fill="#ff7f00"/><rect x="622.76" y="521.92" width="1.08" height="1.41" fill="#007f3f"/><rect x="627.10" y="521.92" width="1.63" height="1.41" fill="#00ffff"/><rect x="631.98" y="521.92" width="1.08" height="1.41" fill="#0000ff"/><rect x="604.07" y="523.82" width="0.81" height="1.90" fill="#ff4cff"/><rect x="610.03" y="523.82" width="1.36" height="1.90" fill="#0000ff"/><rect x="613.01" y="523.82" width="1.08" height="1.90" fill="#0000ff"/><rect x="615.99" y="523.82" width="1.08" height="1.90" fill="#0000ff"/><rect x="620.05" y="523.82" width="1.63" height="1.90" fill="#00ff00"/><rect x="643.30" y="514.50" width="1.10" height="1.30" fill="#ff4cff"/><rect x="646.30" y="513.80" width="1.10" height="1.30" fill="#ff4cff"/><rect x="649.30" y="514.50" width="1.10" height="1.30" fill="#ff4cff"/><rect x="669.80" y="514.50" width="1.10" height="1.30" fill="#ff4cff"/><rect x="674.30" y="514.50" width="1.10" height="1.30" fill="#ff4cff"/><rect x="642.30" y="520.60" width="1.10" height="1.30" fill="#ff4cff"/><rect x="652.80" y="521.20" width="1.10" height="1.30" fill="#ff4cff"/><rect x="660.30" y="520.60" width="1.10" height="1.30" fill="#ff4cff"/><rect x="640.80" y="522.80" width="1.10" height="1.30" fill="#ff4cff"/></g>
<rect x="595.50" y="273.50" width="93.00" height="436.00" fill="none" stroke="#000" stroke-width="1.05"/>
<line x1="595.50" y1="709.50" x2="595.50" y2="704.50" stroke="#000" stroke-width="1.0" />
<text x="595.10" y="721.80" font-size="11.0" text-anchor="middle" textLength="6.74" lengthAdjust="spacingAndGlyphs" >0</text>
<line x1="641.50" y1="709.50" x2="641.50" y2="704.50" stroke="#000" stroke-width="1.0" />
<text x="641.10" y="721.80" font-size="11.0" text-anchor="middle" textLength="13.49" lengthAdjust="spacingAndGlyphs" >10</text>
<line x1="688.50" y1="709.50" x2="688.50" y2="704.50" stroke="#000" stroke-width="1.0" />
<text x="688.10" y="721.80" font-size="11.0" text-anchor="middle" textLength="13.49" lengthAdjust="spacingAndGlyphs" >20</text>
<line x1="595.50" y1="710.50" x2="601.00" y2="710.50" stroke="#000" stroke-width="1.0" />
<text x="590.10" y="713.90" font-size="11.0" text-anchor="end" textLength="29.11" lengthAdjust="spacingAndGlyphs" >−400</text>
<line x1="595.50" y1="655.50" x2="601.00" y2="655.50" stroke="#000" stroke-width="1.0" />
<text x="590.10" y="658.90" font-size="11.0" text-anchor="end" textLength="29.11" lengthAdjust="spacingAndGlyphs" >−300</text>
<line x1="595.50" y1="600.50" x2="601.00" y2="600.50" stroke="#000" stroke-width="1.0" />
<text x="590.10" y="603.90" font-size="11.0" text-anchor="end" textLength="29.11" lengthAdjust="spacingAndGlyphs" >−200</text>
<line x1="595.50" y1="546.50" x2="601.00" y2="546.50" stroke="#000" stroke-width="1.0" />
<text x="590.10" y="549.90" font-size="11.0" text-anchor="end" textLength="29.11" lengthAdjust="spacingAndGlyphs" >−100</text>
<line x1="595.50" y1="491.50" x2="601.00" y2="491.50" stroke="#000" stroke-width="1.0" />
<text x="590.10" y="494.90" font-size="11.0" text-anchor="end" textLength="6.74" lengthAdjust="spacingAndGlyphs" >0</text>
<line x1="595.50" y1="436.50" x2="601.00" y2="436.50" stroke="#000" stroke-width="1.0" />
<text x="590.10" y="439.90" font-size="11.0" text-anchor="end" textLength="20.23" lengthAdjust="spacingAndGlyphs" >100</text>
<line x1="595.50" y1="382.50" x2="601.00" y2="382.50" stroke="#000" stroke-width="1.0" />
<text x="590.10" y="385.90" font-size="11.0" text-anchor="end" textLength="20.23" lengthAdjust="spacingAndGlyphs" >200</text>
<line x1="595.50" y1="327.50" x2="601.00" y2="327.50" stroke="#000" stroke-width="1.0" />
<text x="590.10" y="330.90" font-size="11.0" text-anchor="end" textLength="20.23" lengthAdjust="spacingAndGlyphs" >300</text>
<line x1="595.50" y1="272.50" x2="601.00" y2="272.50" stroke="#000" stroke-width="1.0" />
<text x="590.10" y="275.90" font-size="11.0" text-anchor="end" textLength="20.23" lengthAdjust="spacingAndGlyphs" >400</text>
<text x="640.70" y="741.00" font-size="11.8" text-anchor="middle" textLength="68.28" lengthAdjust="spacingAndGlyphs" >Altitude, km</text>
<text x="700.10" y="491.80" font-size="11.8" text-anchor="middle" textLength="92.43" lengthAdjust="spacingAndGlyphs" transform="rotate(-90 700.10 491.80)" >North-South, km</text>
<rect x="68.20" y="763.5" width="23.00" height="25.1" fill="#ff4cff"/>
<rect x="90.90" y="763.5" width="47.20" height="25.1" fill="#7f00ff"/>
<rect x="137.80" y="763.5" width="48.40" height="25.1" fill="#0000ff"/>
<rect x="185.90" y="763.5" width="23.10" height="25.1" fill="#007fff"/>
<rect x="208.70" y="763.5" width="24.40" height="25.1" fill="#00ffff"/>
<rect x="232.80" y="763.5" width="24.70" height="25.1" fill="#00ff00"/>
<rect x="257.20" y="763.5" width="23.40" height="25.1" fill="#007f3f"/>
<rect x="280.30" y="763.5" width="23.80" height="25.1" fill="#3f7f7f"/>
<rect x="303.80" y="763.5" width="23.40" height="25.1" fill="#ffff00"/>
<rect x="326.90" y="763.5" width="24.40" height="25.1" fill="#ffbf7f"/>
<rect x="351.00" y="763.5" width="24.30" height="25.1" fill="#ff7f00"/>
<rect x="375.00" y="763.5" width="23.20" height="25.1" fill="#ff007f"/>
<rect x="397.90" y="763.5" width="24.40" height="25.1" fill="#ff0000"/>
<rect x="422.00" y="763.5" width="23.60" height="25.1" fill="#bf0000"/>
<rect x="445.30" y="763.5" width="24.10" height="25.1" fill="#7f0000"/>
<rect x="469.10" y="763.5" width="24.50" height="25.1" fill="#000000"/>
<rect x="493.30" y="763.5" width="22.90" height="25.1" fill="#7f7f7f"/>
<rect x="515.90" y="763.5" width="24.20" height="25.1" fill="#bfbfbf"/>
<rect x="539.80" y="763.5" width="25.00" height="25.1" fill="#ffffff"/>
<line x1="140.02" y1="788.50" x2="140.02" y2="785.60" stroke="#000" stroke-width="0.85" />
<line x1="182.44" y1="788.50" x2="182.44" y2="785.60" stroke="#000" stroke-width="0.85" />
<line x1="212.54" y1="788.50" x2="212.54" y2="785.60" stroke="#000" stroke-width="0.85" />
<line x1="235.88" y1="788.50" x2="235.88" y2="785.60" stroke="#000" stroke-width="0.85" />
<line x1="254.96" y1="788.50" x2="254.96" y2="785.60" stroke="#000" stroke-width="0.85" />
<line x1="271.08" y1="788.50" x2="271.08" y2="785.60" stroke="#000" stroke-width="0.85" />
<line x1="285.05" y1="788.50" x2="285.05" y2="785.60" stroke="#000" stroke-width="0.85" />
<line x1="297.38" y1="788.50" x2="297.38" y2="785.60" stroke="#000" stroke-width="0.85" />
<line x1="380.92" y1="788.50" x2="380.92" y2="785.60" stroke="#000" stroke-width="0.85" />
<line x1="423.34" y1="788.50" x2="423.34" y2="785.60" stroke="#000" stroke-width="0.85" />
<line x1="453.44" y1="788.50" x2="453.44" y2="785.60" stroke="#000" stroke-width="0.85" />
<line x1="476.78" y1="788.50" x2="476.78" y2="785.60" stroke="#000" stroke-width="0.85" />
<line x1="495.86" y1="788.50" x2="495.86" y2="785.60" stroke="#000" stroke-width="0.85" />
<line x1="511.98" y1="788.50" x2="511.98" y2="785.60" stroke="#000" stroke-width="0.85" />
<line x1="525.95" y1="788.50" x2="525.95" y2="785.60" stroke="#000" stroke-width="0.85" />
<line x1="538.28" y1="788.50" x2="538.28" y2="785.60" stroke="#000" stroke-width="0.85" />
<line x1="308.40" y1="788.50" x2="308.40" y2="783.60" stroke="#000" stroke-width="0.85" />
<line x1="549.30" y1="788.50" x2="549.30" y2="783.60" stroke="#000" stroke-width="0.85" />
<rect x="68.50" y="763.50" width="496.00" height="25.00" fill="none" stroke="#000" stroke-width="1.05"/>
<text x="67.00" y="801.80" font-size="11.0" text-anchor="middle" textLength="6.74" lengthAdjust="spacingAndGlyphs" >1</text>
<text x="307.60" y="801.80" font-size="11.0" text-anchor="middle" textLength="13.49" lengthAdjust="spacingAndGlyphs" >10</text>
<text x="548.30" y="801.80" font-size="11.0" text-anchor="middle" textLength="20.23" lengthAdjust="spacingAndGlyphs" >100</text>
<text x="583.20" y="784.00" font-size="16.8" text-anchor="start" textLength="115.21" lengthAdjust="spacingAndGlyphs" >Sources/7 km²</text>
</svg></body></html>
